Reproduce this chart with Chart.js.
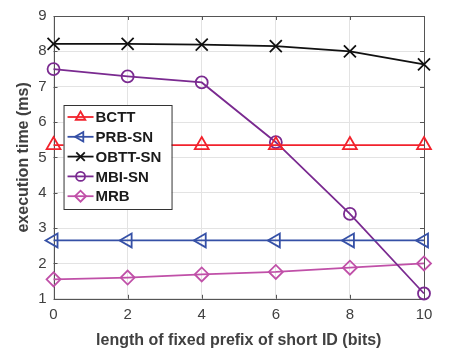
<!DOCTYPE html>
<html>
<head>
<meta charset="utf-8">
<script src="https://cdn.jsdelivr.net/npm/chart.js@4/dist/chart.umd.min.js"></script>
<style>
  html, body { margin: 0; padding: 0; background: #fff; }
  #wrap { width: 456px; height: 351px; position: relative; }
</style>
</head>
<body>
<div id="wrap"><canvas id="c" width="456" height="351"></canvas></div>
<script>
// prefix length (bits)
const prefixBits = [0, 2, 4, 6, 8, 10];

// execution time (ms) per scheme
const bctt   = [5.35, 5.35, 5.35, 5.35, 5.35, 5.35];
const prbSn  = [2.65, 2.65, 2.65, 2.65, 2.65, 2.65];
const obttSn = [8.21, 8.21, 8.19, 8.15, 8.00, 7.63];
const mbiSn  = [7.50, 7.29, 7.12, 5.43, 3.40, 1.15];
const mrb    = [1.55, 1.60, 1.69, 1.76, 1.88, 2.00];

const seriesNames = ['BCTT', 'PRB-SN', 'OBTT-SN', 'MBI-SN', 'MRB'];
const yTicks = [1, 2, 3, 4, 5, 6, 7, 8, 9];
const xTicks = [0, 2, 4, 6, 8, 10];

const FONT = '"Liberation Sans", Arial, Helvetica, sans-serif';

function pts(vals) { return prefixBits.map((x, i) => ({ x: x, y: vals[i] })); }

const styles = [
  { color: '#f2222c', style: 'triangle', rot: 0,   r: 8, lr: 5.5 },
  { color: '#3550a6', style: 'triangle', rot: -90, r: 8, lr: 5.5 },
  { color: '#111111', style: 'crossRot', rot: 0,   r: 8.5, lr: 6 },
  { color: '#7a2a90', style: 'circle',   rot: 0,   r: 6, lr: 4.5 },
  { color: '#c050a8', style: 'rectRot',  rot: 0,   r: 7, lr: 5.5 }
];
const seriesData = [bctt, prbSn, obttSn, mbiSn, mrb];

const datasets = seriesData.map((vals, i) => ({
  label: seriesNames[i],
  data: pts(vals),
  borderColor: styles[i].color,
  backgroundColor: 'rgba(0,0,0,0)',
  borderWidth: 1.8,
  pointStyle: styles[i].style,
  pointRotation: styles[i].rot,
  pointRadius: styles[i].r,
  pointHoverRadius: styles[i].r,
  pointBorderWidth: 1.8,
  pointBorderColor: styles[i].color,
  pointBackgroundColor: 'rgba(0,0,0,0)',
  tension: 0,
  clip: false
}));

// axes frame with inward tick marks on all four sides
const framePlugin = {
  id: 'frame',
  beforeDatasetsDraw(chart) {
    const { ctx, chartArea: a, scales } = chart;
    ctx.save();
    ctx.strokeStyle = '#555555';
    ctx.lineWidth = 1;
    ctx.strokeRect(Math.round(a.left) + 0.5, Math.round(a.top) + 0.5,
                   Math.round(a.right - a.left), Math.round(a.bottom - a.top));
    const L = 4;
    ctx.beginPath();
    xTicks.forEach(v => {
      const x = Math.round(scales.x.getPixelForValue(v)) + 0.5;
      ctx.moveTo(x, a.bottom); ctx.lineTo(x, a.bottom - L);
      ctx.moveTo(x, a.top); ctx.lineTo(x, a.top + L);
    });
    yTicks.forEach(v => {
      const y = Math.round(scales.y.getPixelForValue(v)) + 0.5;
      ctx.moveTo(a.left, y); ctx.lineTo(a.left + L, y);
      ctx.moveTo(a.right, y); ctx.lineTo(a.right - L, y);
    });
    ctx.stroke();
    ctx.restore();
  }
};

// boxed legend inside the plot, upper left
const legendPlugin = {
  id: 'boxLegend',
  afterDatasetsDraw(chart) {
    const { ctx, chartArea: a } = chart;
    const bx = a.left + 10, by = a.top + 89, bw = 108, bh = 104;
    ctx.save();
    ctx.fillStyle = '#ffffff';
    ctx.fillRect(bx, by, bw, bh);
    ctx.strokeStyle = '#333333';
    ctx.lineWidth = 1;
    ctx.strokeRect(bx + 0.5, by + 0.5, bw, bh);
    ctx.font = 'bold 15px ' + FONT;
    ctx.textBaseline = 'middle';
    ctx.textAlign = 'left';
    seriesNames.forEach((name, i) => {
      const y = by + 12 + i * 19.8;
      const s = styles[i];
      ctx.strokeStyle = s.color;
      ctx.lineWidth = 1.8;
      ctx.beginPath();
      ctx.moveTo(bx + 4, y); ctx.lineTo(bx + 30, y);
      ctx.stroke();
      ctx.fillStyle = 'rgba(0,0,0,0)';
      Chart.helpers.drawPoint(ctx, {
        pointStyle: s.style, rotation: s.rot, radius: s.lr, borderWidth: 1.8
      }, bx + 17, y);
      ctx.fillStyle = '#1a1a1a';
      ctx.fillText(name, bx + 32, y + 1);
    });
    ctx.restore();
  }
};

new Chart(document.getElementById('c'), {
  type: 'line',
  data: { datasets: datasets },
  plugins: [framePlugin, legendPlugin],
  options: {
    responsive: false,
    animation: false,
    events: [],
    layout: { padding: { left: 4, right: 32, top: 5, bottom: 1 } },
    plugins: { legend: { display: false }, tooltip: { enabled: false } },
    scales: {
      x: {
        type: 'linear', min: 0, max: 10,
        afterBuildTicks: s => { s.ticks = xTicks.map(v => ({ value: v })); },
        grid: { color: '#e3e3e3', drawTicks: false, lineWidth: 1 },
        border: { display: false },
        ticks: { color: '#404040', font: { family: FONT, size: 15 }, padding: 7, maxRotation: 0 },
        title: { display: true, text: 'length of fixed prefix of short ID (bits)',
                 color: '#404040', font: { family: FONT, size: 16, weight: 'bold' }, padding: { top: 0, bottom: 0 } }
      },
      y: {
        type: 'linear', min: 1, max: 9,
        afterBuildTicks: s => { s.ticks = yTicks.map(v => ({ value: v })); },
        grid: { color: '#e3e3e3', drawTicks: false, lineWidth: 1 },
        border: { display: false },
        ticks: { color: '#404040', font: { family: FONT, size: 15 }, padding: 7 },
        title: { display: true, text: 'execution time (ms)',
                 color: '#404040', font: { family: FONT, size: 16, weight: 'bold' }, padding: { top: 9.5, bottom: -1.5 } }
      }
    }
  }
});
</script>
</body>
</html>
